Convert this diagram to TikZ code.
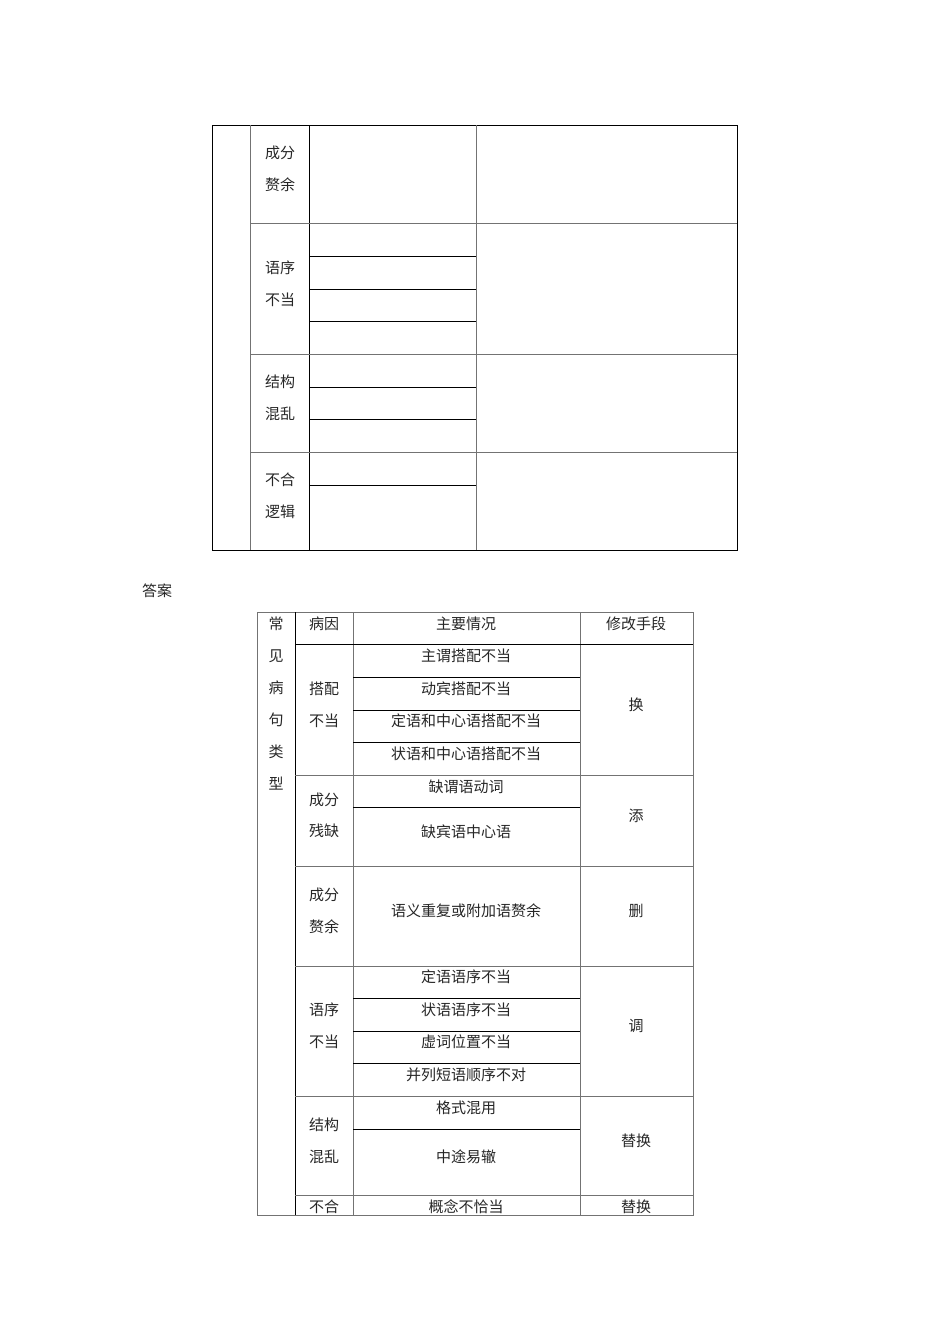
\documentclass[tikz,border=0pt]{standalone}
\usepackage{fontspec}
\newfontfamily\cjk{Noto Sans CJK SC}
\begin{document}
\begin{tikzpicture}[x=1pt,y=-1pt,line width=0.8pt,
  t/.style={font=\cjk\fontsize{15}{15}\selectfont,text=black!85,inner sep=0pt,anchor=center},
  g/.style={draw=black!55,line width=1pt}]
\useasboundingbox (0,0) rectangle (950,1344);
% top table
\draw (212,125) rectangle (737,550);
\draw[g] (250,125) -- (250,550);
\draw (309,125) -- (309,550);
\draw[g] (476,125) -- (476,550);
\foreach \y in {223,354,452} \draw[g] (250,\y) -- (737,\y);
\foreach \y in {256,289,321,387,419,485} \draw (309,\y) -- (476,\y);
\node[t] (a1) at (280,153) {成分}; \node[t] (a2) at (280,185) {赘余};
\node[t] (a3) at (280,268) {语序}; \node[t] (a4) at (280,300) {不当};
\node[t] (a5) at (280,382) {结构}; \node[t] (a6) at (280,414) {混乱};
\node[t] (a7) at (280,480) {不合}; \node[t] (a8) at (280,512) {逻辑};
\node[t] (ans) at (157,591) {答案};
% answer table
\begin{scope}
\clip (250,600) rectangle (700,1216);
\draw[g] (257,612) rectangle (693,1215);
\draw (295,612) -- (295,1215);
\draw[g] (353,612) -- (353,1215);
\draw[g] (580,612) -- (580,1215);
\draw (295,644) -- (693,644);
\foreach \y in {775,866,966,1096,1195} \draw[g] (295,\y) -- (693,\y);
\foreach \y in {677,710,742,807,998,1031,1063,1129} \draw (353,\y) -- (580,\y);
\foreach \c [count=\i] in {常,见,病,句,类,型} \node[t] (c\i) at (276,592+32*\i) {\c};
\node[t] (h1) at (324,624) {病因}; \node[t] (h2) at (466,624) {主要情况}; \node[t] (h3) at (636,624) {修改手段};
\node[t] (b1) at (324,689) {搭配}; \node[t] (b2) at (324,721) {不当};
\node[t] (r1) at (466,656) {主谓搭配不当};
\node[t] (r2) at (466,689) {动宾搭配不当};
\node[t] (r3) at (466,721) {定语和中心语搭配不当};
\node[t] (r4) at (466,754) {状语和中心语搭配不当};
\node[t] (m1) at (636,705) {换};
\node[t] (b3) at (324,800) {成分}; \node[t] (b4) at (324,831) {残缺};
\node[t] (r5) at (466,787) {缺谓语动词};
\node[t] (r6) at (466,832) {缺宾语中心语};
\node[t] (m2) at (636,816) {添};
\node[t] (b5) at (324,895) {成分}; \node[t] (b6) at (324,927) {赘余};
\node[t] (r7) at (466,911) {语义重复或附加语赘余};
\node[t] (m3) at (636,911) {删};
\node[t] (b7) at (324,1010) {语序}; \node[t] (b8) at (324,1042) {不当};
\node[t] (r8) at (466,977) {定语语序不当};
\node[t] (r9) at (466,1010) {状语语序不当};
\node[t] (r10) at (466,1042) {虚词位置不当};
\node[t] (r11) at (466,1075) {并列短语顺序不对};
\node[t] (m4) at (636,1026) {调};
\node[t] (b9) at (324,1125) {结构}; \node[t] (b10) at (324,1157) {混乱};
\node[t] (r12) at (466,1108) {格式混用};
\node[t] (r13) at (466,1157) {中途易辙};
\node[t] (m5) at (636,1141) {替换};
\node[t] (b11) at (324,1207) {不合};
\node[t] (r14) at (466,1207) {概念不恰当};
\node[t] (m6) at (636,1207) {替换};
\end{scope}
\draw[g] (257,1215) -- (693,1215);
\end{tikzpicture}
\end{document}
